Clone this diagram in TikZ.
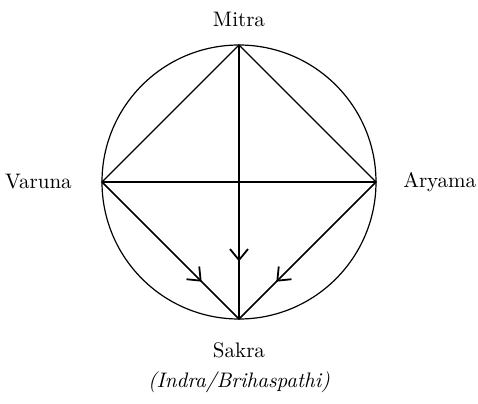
\documentclass[tikz,border=0pt]{standalone}
\usetikzlibrary{arrows.meta, positioning, decorations.markings}

\tikzset{
  midarrow/.style={postaction={decorate},
    decoration={markings,
      mark=at position #1 with {\arrow[line width=0.9pt]{Straight Barb[length=5.5pt,width=9pt]}}}},
  deity/.style={font=\fontsize{10.5}{13}\selectfont}
}

\begin{document}
\begin{tikzpicture}[line width=0.6pt]
  \useasboundingbox (-119.5pt,-110.5pt) rectangle (119.5pt,91pt);

  % Circle
  \coordinate (c) at (0,0);
  \draw (c) circle (68.5pt);

  % Vertices
  \coordinate (top) at (90:68.5pt);
  \coordinate (left) at (180:68.5pt);
  \coordinate (right) at (0:68.5pt);
  \coordinate (bot) at (270:68.5pt);

  % Diamond and cross
  \draw (top) -- (left) -- (bot) -- (right) -- cycle;
  \draw (left) -- (right);
  \draw[midarrow=0.79] (top) -- (bot);
  \draw[midarrow=0.73] (left) -- (bot);
  \draw[midarrow=0.73] (right) -- (bot);

  % Labels
  \node[deity, above=5.5pt of top] (mitra) {Mitra};
  \node[deity, left=11.5pt of left] (varuna) {Varuna};
  \node[deity, right=10pt of right] (aryama) {Aryama};
  \node[deity, below=8pt of bot] (sakra) {Sakra};
  \node[deity, below=0pt of sakra, font=\fontsize{10.5}{13}\selectfont\itshape] (indra) {(Indra/Brihaspathi)};
\end{tikzpicture}
\end{document}
